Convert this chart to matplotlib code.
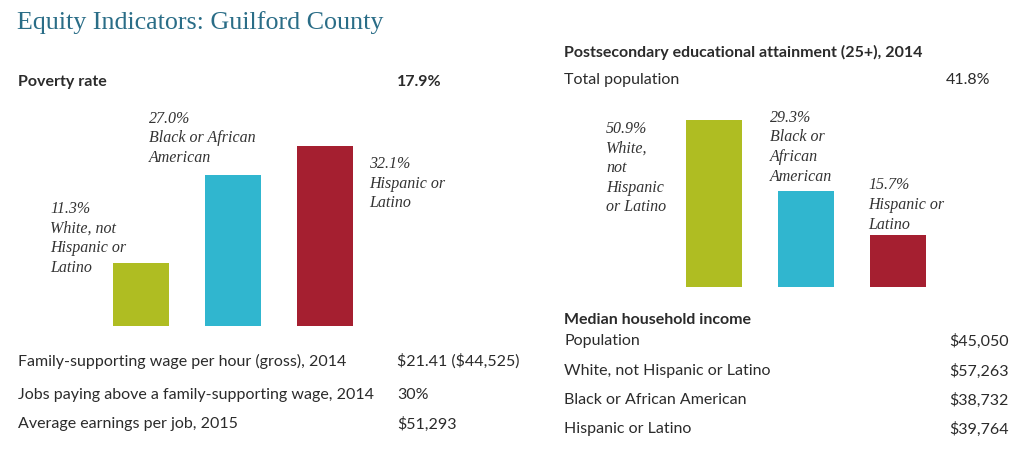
import matplotlib
matplotlib.use("Agg")
import matplotlib.pyplot as plt

W, H = 1024, 461

# ---- data ----
groups = ["White, not Hispanic or Latino", "Black or African American", "Hispanic or Latino"]
poverty_values = [11.3, 27.0, 32.1]
poverty_labels = ["11.3%\nWhite, not\nHispanic or\nLatino",
                  "27.0%\nBlack or African\nAmerican",
                  "32.1%\nHispanic or\nLatino"]
poverty_total = "17.9%"

edu_values = [50.9, 29.3, 15.7]
edu_labels = ["50.9%\nWhite,\nnot\nHispanic\nor Latino",
              "29.3%\nBlack or\nAfrican\nAmerican",
              "15.7%\nHispanic or\nLatino"]
edu_total = "41.8%"

left_rows = ["Family-supporting wage per hour (gross), 2014",
             "Jobs paying above a family-supporting wage, 2014",
             "Average earnings per job, 2015"]
left_vals = ["$21.41 ($44,525)", "30%", "$51,293"]

income_rows = ["Population", "White, not Hispanic or Latino",
               "Black or African American", "Hispanic or Latino"]
income_vals = ["$45,050", "$57,263", "$38,732", "$39,764"]

colors = ["#afbd22", "#30b6cf", "#a51f30"]
TXT = "#2b2b2b"
SANS = "Lato"
SERIF = "Liberation Serif"
FS = 11.5

fig = plt.figure(figsize=(W / 100, H / 100), dpi=100)
fig.patch.set_facecolor("white")


def ftext(x, y, s, **kw):
    kw.setdefault("color", TXT)
    kw.setdefault("va", "center")
    fig.text(x / W, 1 - y / H, s, parse_math=False, **kw)


def px_axes(left, bottom, width, height):
    return fig.add_axes([left / W, 1 - bottom / H, width / W, height / H])


# title
ftext(17, 23, "Equity Indicators: Guilford County", family=SERIF,
      fontsize=18.7, color="#2a6d87")

# left header
ftext(18, 82, "Poverty rate", family=SANS, fontsize=FS, fontweight="bold")
ftext(397, 82, poverty_total, family=SANS, fontsize=FS, fontweight="bold")

# right header
ftext(564, 52, "Postsecondary educational attainment (25+), 2014",
      family=SANS, fontsize=FS, fontweight="bold")
ftext(564, 80, "Total population", family=SANS, fontsize=FS)
ftext(990, 80, edu_total, family=SANS, fontsize=FS, ha="right")


def bar_panel(ax, values, labels, ymax, offsets):
    x = range(len(values))
    ax.bar(x, values, width=56 / 92, color=colors)
    ax.set_xlim(-0.5, 2.5)
    ax.set_ylim(0, ymax)
    ax.axis("off")
    for i, (v, lab, off) in enumerate(zip(values, labels, offsets)):
        ax.annotate(lab, xy=(i, v), xytext=off, textcoords="offset pixels",
                    ha="left", va="top", family=SERIF, style="italic",
                    fontsize=11.5, color="#333333", linespacing=1.3,
                    annotation_clip=False)


ax1 = px_axes(95, 326, 276, 180)
bar_panel(ax1, poverty_values, poverty_labels, 32.14,
          [(-91, 62), (-84, 64), (44, -10)])

ax2 = px_axes(668, 287, 276, 167)
bar_panel(ax2, edu_values, edu_labels, 50.9,
          [(-108, -1), (-36, 81), (-30, 58)])

# left bottom rows
for y, lab, val in zip([361, 395, 424], left_rows, left_vals):
    ftext(18, y, lab, family=SANS, fontsize=FS)
    ftext(397, y, val, family=SANS, fontsize=FS)

# right income block
ftext(564, 320, "Median household income", family=SANS, fontsize=FS,
      fontweight="bold")
for y, lab, val in zip([341, 371, 400, 429], income_rows, income_vals):
    ftext(564, y, lab, family=SANS, fontsize=FS)
    ftext(1009, y, val, family=SANS, fontsize=FS, ha="right")

fig.savefig("out.png", dpi=100)
